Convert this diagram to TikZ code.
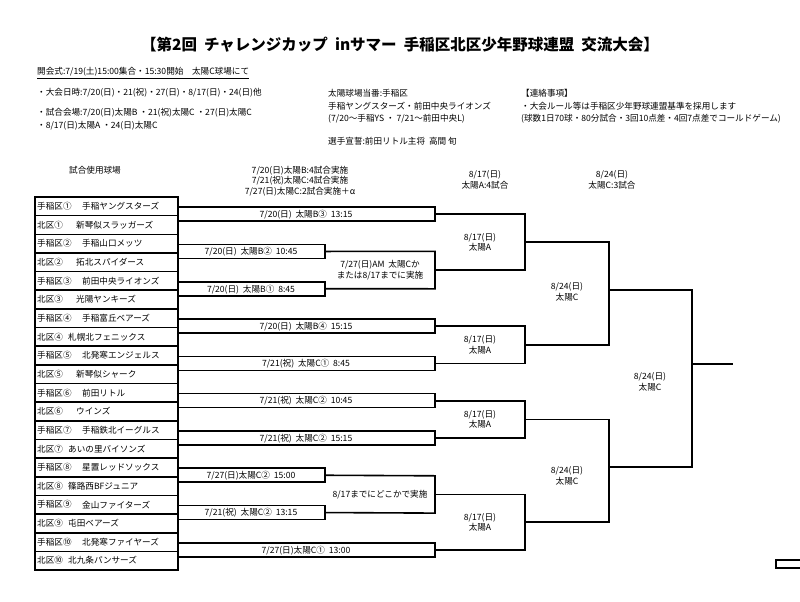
\documentclass[tikz,border=0pt]{standalone}
\usepackage{fontspec}
\setmainfont{Noto Sans CJK JP}
\begin{document}
\begin{tikzpicture}[x=1pt,y=-1pt,
  ln/.style={line width=1.6pt,line join=miter},
  tx/.style={inner sep=0pt,font=\fontsize{8.6}{10.5}\selectfont},
  lt/.style={tx,anchor=west},
  ct/.style={tx,align=center}]
\useasboundingbox[fill=white] (0,0) rectangle (800,602);
\node[font=\fontsize{15.5}{18}\selectfont\bfseries,inner sep=0pt] (title) at (400,45) {【第2回\ \ チャレンジカップ\ \ inサマー\ \ 手稲区北区少年野球連盟\ \ 交流大会】};
\node[lt] (t1) at (37,73) {\underline{開会式:7/19(土)15:00集合・15:30開始　太陽C球場にて}};
\node[lt] (t2) at (37,93) {・大会日時:7/20(日)・21(祝)・27(日)・8/17(日)・24(日)他};
\node[lt] (t3) at (37,113) {・試合会場:7/20(日)太陽B\ ・21(祝)太陽C\ ・27(日)太陽C};
\node[lt] (t4) at (37,126) {・8/17(日)太陽A\ ・24(日)太陽C};
\node[lt] (t5) at (328,93) {太陽球場当番:手稲区};
\node[lt] (t6) at (328,106) {手稲ヤングスターズ・前田中央ライオンズ};
\node[lt] (t7) at (328,119) {(7/20～手稲YS\ ・\ 7/21～前田中央L)};
\node[lt] (t8) at (328,141) {選手宣誓:前田リトル主将\ \ 高間\ 旬};
\node[lt] (t9) at (521,93) {【連絡事項】};
\node[lt] (t10) at (521,106) {・大会ルール等は手稲区少年野球連盟基準を採用します};
\node[lt] (t11) at (521,119) {(球数1日70球・80分試合・3回10点差・4回7点差でコールドゲーム)};
\node[ct] (h1) at (95,170) {試合使用球場};
\node[ct] (h2) at (300,181) {7/20(日)太陽B:4試合実施\\7/21(祝)太陽C:4試合実施\\7/27(日)太陽C:2試合実施＋α};
\node[ct] (h3) at (485,180) {8/17(日)\\太陽A:4試合};
\node[ct] (h4) at (612,180) {8/24(日)\\太陽C:3試合};
% teams
\foreach \i/\p/\n/\x in {1/手稲区①/手稲ヤングスターズ/82,2/北区①/新琴似スラッガーズ/76,
 3/手稲区②/手稲山口メッツ/82,4/北区②/拓北スパイダース/76,
 5/手稲区③/前田中央ライオンズ/82,6/北区③/光陽ヤンキーズ/76,
 7/手稲区④/手稲富丘ベアーズ/82,8/北区④/札幌北フェニックス/68,
 9/手稲区⑤/北発寒エンジェルス/82,10/北区⑤/新琴似シャーク/76,
 11/手稲区⑥/前田リトル/82,12/北区⑥/ウインズ/76,
 13/手稲区⑦/手稲鉄北イーグルス/82,14/北区⑦/あいの里バイソンズ/68,
 15/手稲区⑧/星置レッドソックス/82,16/北区⑧/篠路西BFジュニア/68,
 17/手稲区⑨/金山ファイターズ/82,18/北区⑨/屯田ベアーズ/68,
 19/手稲区⑩/北発寒ファイヤーズ/82,20/北区⑩/北九条パンサーズ/68}{
  \pgfmathsetmacro\yt{197+(\i-1)*18.65}
  \draw[ln] (35,\yt) rectangle (178,\yt+18.65);
  \node[lt] (p\i) at (37,\yt+9.3) {\p};
  \node[lt] (n\i) at (\x,\yt+9.3) {\n};
}
% round 1 pairs
\foreach \k/\xr/\lab/\lx in {1/435/{7/20(日)\ \ 太陽B③\ \ 13:15}/306,
 2/325/{7/20(日)\ \ 太陽B②\ \ 10:45}/251,
 3/325/{7/20(日)\ \ 太陽B①\ \ 8:45}/251,
 4/435/{7/20(日)\ \ 太陽B④\ \ 15:15}/306,
 5/435/{7/21(祝)\ \ 太陽C①\ \ 8:45}/306,
 6/435/{7/21(祝)\ \ 太陽C②\ \ 10:45}/306,
 7/435/{7/21(祝)\ \ 太陽C②\ \ 15:15}/306,
 8/325/{7/27(日)太陽C②\ \ 15:00}/251,
 9/325/{7/21(祝)\ \ 太陽C②\ \ 13:15}/251,
 10/435/{7/27(日)太陽C①\ \ 13:00}/306}{
  \pgfmathsetmacro\b{197+(2*\k-1)*18.65}
  \coordinate (a\k) at (178,\b-8.5);
  \coordinate (c\k) at (178,\b+5.5);
  \draw[ln] (a\k) -- (\xr,\b-8.5) -- (\xr,\b+5.5) -- (c\k);
  \node[ct] (l\k) at (\lx,\b-1) {\lab};
  \coordinate (m\k) at (\xr,\b-1.5);
}
% sub boxes
\draw[ln] (m2) -- (435,251.4) -- (435,288.8) -- (m3);
\node[ct] (lb1) at (380,270) {7/27(日)AM\ \ 太陽Cか\\または8/17までに実施};
\draw[ln] (m8) -- (435,475.8) -- (435,513.1) -- (m9);
\node[ct] (lb2) at (380,494.5) {8/17までにどこかで実施};
% round 2
\coordinate (r1a) at (435,214.1); \coordinate (r1b) at (435,270.1);
\coordinate (r2a) at (435,326.0); \coordinate (r2b) at (435,363.4);
\coordinate (r3a) at (435,400.7); \coordinate (r3b) at (435,438.0);
\coordinate (r4a) at (435,494.5); \coordinate (r4b) at (435,549.9);
\foreach \j/\ya/\yb in {1/214.1/270.1,2/326.0/363.4,3/400.7/438.0,4/494.5/549.9}{
  \draw[ln] (r\j a) -- (525,\ya) -- (525,\yb) -- (r\j b);
  \node[ct] (s\j) at (480,{(\ya+\yb)/2}) {8/17(日)\\太陽A};
}
% round 3
\coordinate (q1a) at (525,242.1); \coordinate (q1b) at (525,344.7);
\coordinate (q2a) at (525,419.4); \coordinate (q2b) at (525,522.2);
\draw[ln] (q1a) -- (609,242.1) -- (609,344.7) -- (q1b);
\draw[ln] (q2a) -- (609,419.4) -- (609,522.2) -- (q2b);
\node[ct] (u1) at (567,292) {8/24(日)\\太陽C};
\node[ct] (u2) at (567,476) {8/24(日)\\太陽C};
% final
\coordinate (f1) at (609,290); \coordinate (f2) at (609,467);
\draw[ln] (f1) -- (692,290) -- (692,467) -- (f2);
\coordinate (fo) at (692,364); \coordinate (fe) at (733,364);
\draw[ln] (fo) -- (fe);
\node[ct] (w) at (650,382) {8/24(日)\\太陽C};
\draw[ln] (776,560) rectangle (802,568);
\end{tikzpicture}
\end{document}
